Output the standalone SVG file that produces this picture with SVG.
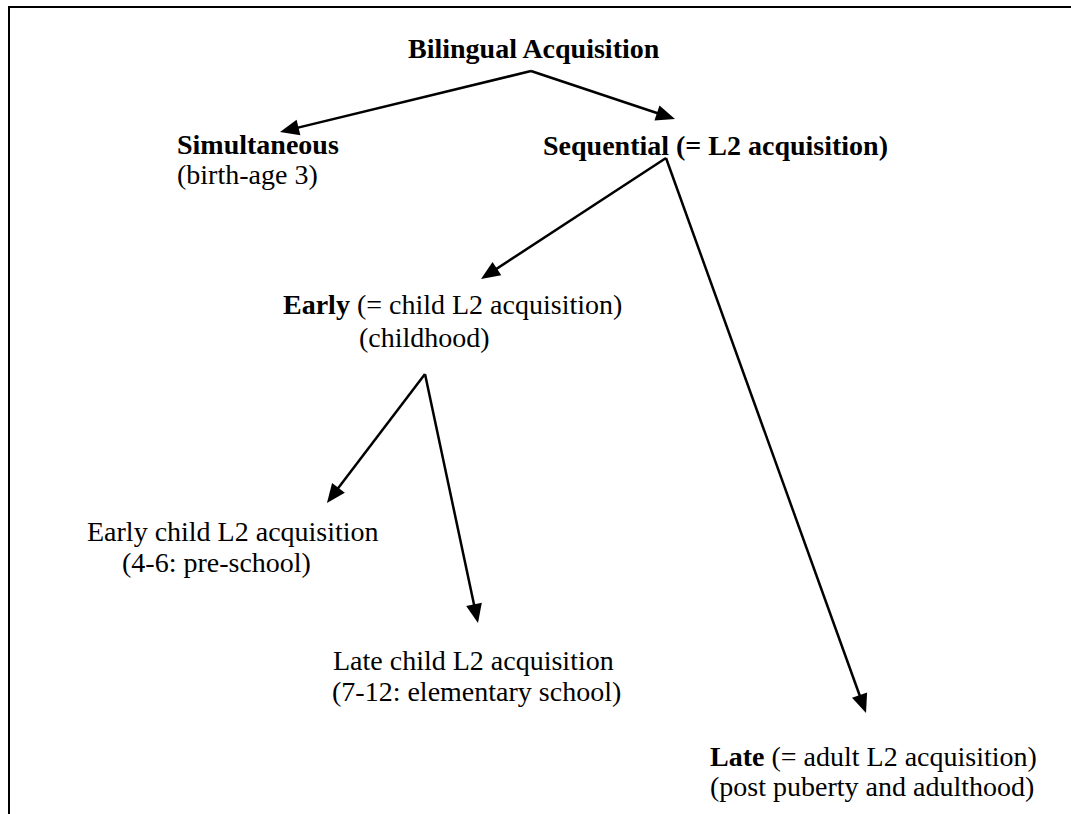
<svg xmlns="http://www.w3.org/2000/svg" width="1071" height="814" viewBox="0 0 1071 814">
  <style>
    text { font-family: "Liberation Serif", "Times New Roman", serif; font-size: 28px; fill: #000; }
    .b { font-weight: bold; }
    .conn { stroke: #000; stroke-width: 2.5; fill: none; marker-end: url(#ah); }
    .frame { stroke: #000; stroke-width: 2; fill: none; }
  </style>
  <defs>
    <marker id="ah" markerUnits="userSpaceOnUse" markerWidth="22" markerHeight="18" refX="11" refY="8" orient="auto" overflow="visible">
      <path d="M0,0 L19,8 L0,16 z" fill="#000"/>
    </marker>
  </defs>
  <rect width="1071" height="814" fill="#fff"/>
  <g id="frame">
    <path class="frame" d="M9,814 L9,7 L1071,7"/>
  </g>
  <g id="connectors">
    <path class="conn" d="M531,71 L287.8,130.1"/>
    <path class="conn" d="M531,71 L667.4,116.5"/>
    <path class="conn" d="M666,158 L487.7,274.6"/>
    <path class="conn" d="M666,158 L863.3,705.5"/>
    <path class="conn" d="M425,374 L331.8,496.6"/>
    <path class="conn" d="M425,374 L476.3,615.2"/>
  </g>
  <g id="bilingual">
    <text class="b" x="408" y="58">Bilingual Acquisition</text>
  </g>
  <g id="simultaneous">
    <text class="b" x="177" y="154">Simultaneous</text>
    <text x="177" y="184">(birth-age 3)</text>
  </g>
  <g id="sequential">
    <text class="b" x="543" y="155">Sequential (= L2 acquisition)</text>
  </g>
  <g id="early">
    <text x="283" y="314"><tspan class="b">Early</tspan> (= child L2 acquisition)</text>
    <text x="359" y="347">(childhood)</text>
  </g>
  <g id="early-child">
    <text x="87" y="541">Early child L2 acquisition</text>
    <text x="122" y="572">(4-6: pre-school)</text>
  </g>
  <g id="late-child">
    <text x="333" y="670">Late child L2 acquisition</text>
    <text x="332" y="701">(7-12: elementary school)</text>
  </g>
  <g id="late">
    <text x="710" y="766"><tspan class="b">Late</tspan> (= adult L2 acquisition)</text>
    <text x="710" y="796">(post puberty and adulthood)</text>
  </g>
</svg>
